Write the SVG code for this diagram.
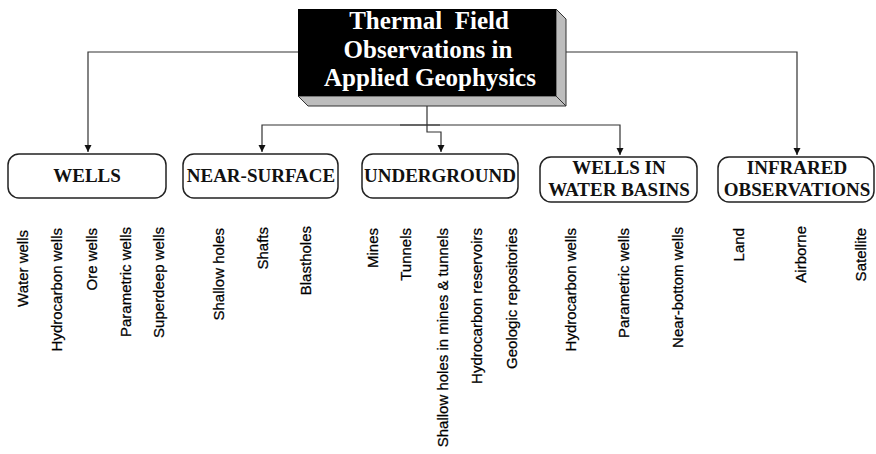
<svg xmlns="http://www.w3.org/2000/svg" width="876" height="454" viewBox="0 0 876 454">
<defs>
<marker id="ah" markerWidth="8" markerHeight="8" refX="7" refY="4" orient="auto" markerUnits="userSpaceOnUse">
<path d="M0,0.5 L7,4 L0,7.5 Z" fill="#111"/>
</marker>
<style>
.conn{fill:none;stroke:#333;stroke-width:1.2}
.box{fill:#fff;stroke:#222;stroke-width:1.5}
.bl{font-family:"Liberation Serif","Times New Roman",serif;font-weight:bold;font-size:19px;fill:#111;text-anchor:middle}
.tt{font-family:"Liberation Serif","Times New Roman",serif;font-weight:bold;font-size:25px;fill:#fff;text-anchor:middle;white-space:pre}
.lf{font-family:"Liberation Sans",Arial,sans-serif;font-size:15px;fill:#000;stroke:#000;stroke-width:0.25;text-anchor:end}
</style>
</defs>
<rect width="876" height="454" fill="#fff"/>
<g id="connectors">
<path class="conn" d="M298,52 H88 V152" marker-end="url(#ah)"/>
<path class="conn" d="M566,52 H797 V155" marker-end="url(#ah)"/>
<path class="conn" d="M427,106 V132 H441 V152" marker-end="url(#ah)"/>
<path class="conn" d="M440,125 H262 V152" marker-end="url(#ah)"/>
<path class="conn" d="M400,125 H620 V155" marker-end="url(#ah)"/>
</g>
<g id="title">
<polygon points="556,9 566,19 566,106 556,96" fill="#bdbdbd" stroke="#333" stroke-width="1"/>
<polygon points="298,96 556,96 566,106 308,106" fill="#bdbdbd" stroke="#333" stroke-width="1"/>
<rect x="298" y="9" width="258" height="87" fill="#000"/>
<text class="tt" x="429" y="29" xml:space="preserve">Thermal  Field</text>
<text class="tt" x="428" y="58">Observations in</text>
<text class="tt" x="430" y="86">Applied Geophysics</text>
</g>
<g id="wells">
<rect class="box" x="8" y="154" width="158" height="44" rx="11"/>
<text class="bl" x="87" y="182">WELLS</text>
</g>
<g id="near-surface">
<rect class="box" x="183" y="154" width="155" height="44" rx="11"/>
<text class="bl" x="261" y="182">NEAR-SURFACE</text>
</g>
<g id="underground">
<rect class="box" x="362" y="154" width="156" height="44" rx="11"/>
<text class="bl" x="440" y="182">UNDERGROUND</text>
</g>
<g id="water-basins">
<rect class="box" x="540" y="157" width="157" height="45" rx="11"/>
<text class="bl" x="619" y="174">WELLS IN</text>
<text class="bl" x="619" y="196">WATER BASINS</text>
</g>
<g id="infrared">
<rect class="box" x="718" y="157" width="156" height="45" rx="11"/>
<text class="bl" x="797" y="174">INFRARED</text>
<text class="bl" x="797" y="196">OBSERVATIONS</text>
</g>
<g id="leaves">
<text class="lf" transform="translate(28,230) rotate(-90)">Water wells</text>
<text class="lf" transform="translate(62,228) rotate(-90)">Hydrocarbon wells</text>
<text class="lf" transform="translate(97,228) rotate(-90)">Ore wells</text>
<text class="lf" transform="translate(131,227) rotate(-90)">Parametric wells</text>
<text class="lf" transform="translate(164,227) rotate(-90)">Superdeep wells</text>
<text class="lf" transform="translate(224,228) rotate(-90)">Shallow holes</text>
<text class="lf" transform="translate(268,227) rotate(-90)">Shafts</text>
<text class="lf" transform="translate(311,226) rotate(-90)">Blastholes</text>
<text class="lf" transform="translate(378,228) rotate(-90)">Mines</text>
<text class="lf" transform="translate(411,228) rotate(-90)">Tunnels</text>
<text class="lf" transform="translate(448,228) rotate(-90)">Shallow holes in mines &amp; tunnels</text>
<text class="lf" transform="translate(482,228) rotate(-90)">Hydrocarbon reservoirs</text>
<text class="lf" transform="translate(517,228) rotate(-90)">Geologic repositories</text>
<text class="lf" transform="translate(576,228) rotate(-90)">Hydrocarbon wells</text>
<text class="lf" transform="translate(629,228) rotate(-90)">Parametric wells</text>
<text class="lf" transform="translate(683,227) rotate(-90)">Near-bottom wells</text>
<text class="lf" transform="translate(744,228) rotate(-90)">Land</text>
<text class="lf" transform="translate(806,226) rotate(-90)">Airborne</text>
<text class="lf" transform="translate(866,228) rotate(-90)">Satellite</text>
</g>
</svg>
